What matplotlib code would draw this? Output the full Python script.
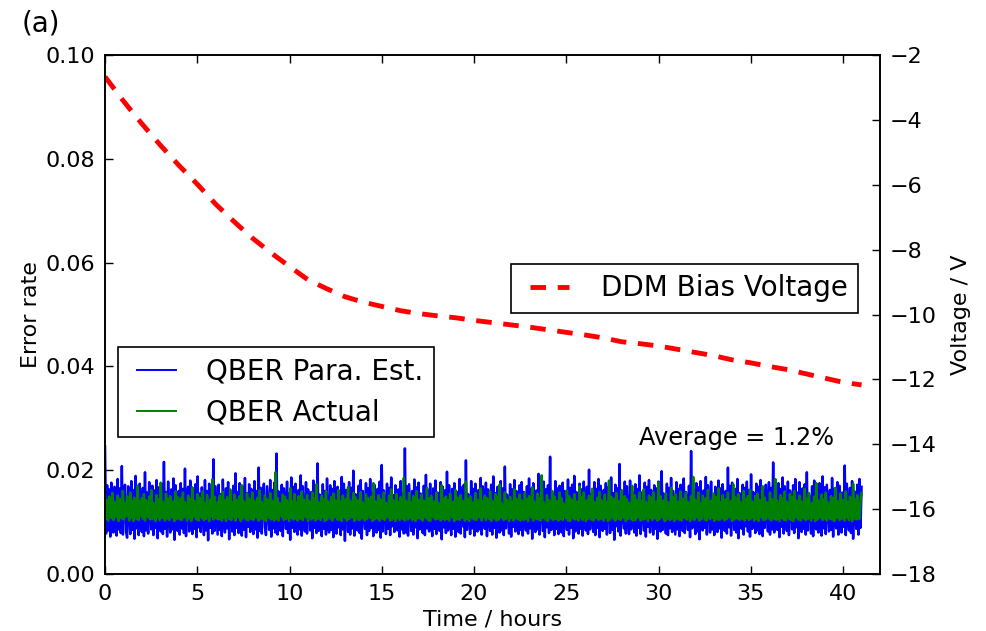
import numpy as np
import matplotlib
matplotlib.use('Agg')
import matplotlib.pyplot as plt
from matplotlib.legend_handler import HandlerLine2D

# QBER from parameter estimation, units of 1e-4
qber_est = [
    246, 78, 171, 84, 163, 72, 176, 120, 80, 168, 135, 74, 183, 86, 165, 79, 208, 76, 152, 172, 83, 70, 169, 118, 77, 179, 85, 162, 68, 189, 88, 158, 75, 174, 112, 81,
    166, 73, 196, 84, 157, 78, 177, 128, 86, 170, 75, 161, 89, 181, 69, 167, 140, 82, 173, 77, 216, 87, 158, 72, 178, 110, 80, 163, 86, 184, 66, 171, 130, 83, 160, 76,
    175, 88, 164, 79, 203, 73, 150, 168, 82, 180, 117, 77, 163, 87, 173, 71, 188, 90, 155, 81, 167, 135, 75, 181, 84, 160, 65, 174, 89, 163, 78, 221, 83, 169, 122, 76,
    172, 85, 154, 73, 182, 108, 80, 165, 88, 177, 67, 161, 142, 82, 170, 75, 194, 89, 158, 79, 175, 114, 74, 168, 85, 185, 71, 156, 91, 173, 81, 164, 131, 77, 179, 86,
    160, 70, 205, 83, 166, 78, 151, 174, 90, 75, 169, 126, 85, 181, 72, 162, 88, 176, 80, 232, 76, 159, 111, 83, 172, 73, 165, 139, 87, 178, 79, 155, 66, 186, 89, 168,
    81, 174, 118, 76, 162, 86, 190, 74, 169, 106, 82, 177, 78, 163, 144, 84, 158, 69, 180, 89, 167, 79, 213, 83, 153, 129, 73, 173, 87, 160, 76, 184, 92, 80, 171, 85,
    164, 71, 179, 120, 78, 168, 90, 156, 75, 187, 86, 174, 64, 162, 137, 81, 177, 76, 166, 88, 199, 74, 154, 112, 84, 170, 79, 181, 68, 160, 125, 87, 175, 75, 165, 83,
    183, 89, 158, 73, 172, 109, 80, 164, 85, 178, 70, 210, 82, 161, 133, 77, 174, 87, 166, 75, 186, 92, 152, 81, 171, 116, 84, 163, 72, 179, 86, 156, 78, 242, 80, 169,
    74, 173, 128, 83, 160, 76, 182, 90, 167, 69, 176, 86, 155, 141, 79, 170, 75, 191, 88, 162, 82, 174, 107, 73, 165, 87, 180, 77, 157, 123, 83, 177, 67, 168, 90, 161,
    79, 197, 84, 171, 115, 75, 164, 87, 175, 72, 159, 138, 81, 183, 78, 167, 92, 172, 71, 219, 85, 154, 130, 77, 179, 88, 164, 74, 174, 110, 82, 162, 86, 185, 76, 169,
    144, 87, 176, 73, 163, 105, 83, 172, 76, 188, 89, 156, 70, 168, 121, 80, 179, 84, 165, 75, 207, 88, 153, 134, 78, 173, 72, 163, 91, 181, 82, 160, 113, 77, 171, 85,
    177, 74, 158, 136, 84, 169, 78, 184, 88, 164, 68, 175, 108, 81, 161, 86, 193, 76, 167, 124, 83, 178, 71, 163, 90, 171, 79, 226, 85, 155, 118, 75, 179, 87, 165, 77,
    170, 93, 80, 176, 73, 160, 142, 85, 182, 76, 166, 89, 172, 69, 189, 82, 158, 127, 78, 174, 87, 163, 74, 178, 109, 84, 168, 77, 201, 86, 153, 132, 81, 177, 75, 164,
    89, 183, 71, 170, 114, 83, 162, 87, 175, 76, 167, 140, 79, 186, 85, 156, 66, 172, 92, 165, 82, 212, 74, 161, 123, 88, 178, 78, 169, 106, 77, 180, 86, 159, 129, 80,
    173, 74, 164, 89, 190, 77, 157, 119, 84, 176, 72, 168, 91, 181, 80, 162, 137, 76, 171, 87, 165, 68, 178, 111, 82, 198, 85, 155, 130, 78, 174, 75, 166, 88, 185, 81,
    160, 116, 76, 177, 86, 164, 73, 172, 93, 83, 184, 79, 158, 139, 85, 170, 71, 237, 88, 163, 125, 77, 175, 82, 167, 67, 179, 108, 84, 161, 89, 187, 76, 171, 134, 80,
    178, 86, 154, 75, 168, 112, 81, 180, 88, 165, 70, 173, 131, 83, 160, 78, 205, 90, 170, 74, 176, 120, 85, 164, 80, 183, 69, 156, 143, 87, 172, 76, 166, 92, 178, 82,
    162, 72, 192, 87, 158, 128, 79, 174, 84, 168, 77, 181, 105, 73, 162, 89, 172, 138, 82, 177, 76, 166, 86, 215, 80, 155, 115, 85, 175, 71, 164, 91, 186, 78, 169, 122,
    83, 178, 75, 161, 133, 86, 171, 79, 183, 90, 157, 69, 177, 109, 81, 165, 87, 173, 76, 196, 84, 153, 141, 78, 169, 73, 180, 93, 86, 163, 80, 175, 117, 74, 188, 88,
    167, 77, 172, 126, 82, 162, 85, 185, 72, 164, 106, 88, 177, 76, 170, 145, 80, 157, 91, 209, 75, 174, 114, 84, 166, 79, 179, 68, 160, 130, 87, 172, 76, 183, 89, 168,
]
# measured QBER, units of 1e-4
qber_act = [
    153, 106, 142, 103, 149, 123, 108, 156, 104, 139, 116, 110, 151, 102, 145, 128, 107, 160, 105, 137, 111, 150, 120, 103, 157, 109, 141, 102, 147, 126, 106, 170, 104, 140, 113, 146,
    107, 154, 103, 142, 119, 109, 149, 105, 162, 106, 137, 125, 102, 152, 110, 144, 104, 176, 108, 139, 117, 103, 155, 107, 145, 104, 150, 128, 109, 140, 102, 159, 106, 148, 114, 105,
    146, 104, 157, 109, 138, 121, 103, 151, 107, 144, 102, 167, 110, 141, 130, 105, 154, 103, 147, 115, 108, 159, 104, 137, 106, 152, 125, 102, 143, 111, 182, 105, 149, 118, 107, 139,
    105, 151, 116, 103, 158, 108, 142, 102, 148, 127, 106, 163, 104, 138, 110, 153, 103, 143, 120, 109, 150, 102, 171, 107, 140, 123, 105, 155, 103, 145, 112, 106, 157, 104, 141, 131,
    109, 147, 103, 161, 106, 139, 118, 104, 152, 102, 144, 128, 108, 156, 105, 141, 113, 103, 196, 107, 146, 103, 137, 124, 110, 153, 104, 149, 106, 142, 121, 102, 165, 108, 140, 105,
    154, 107, 138, 103, 150, 125, 106, 159, 104, 143, 115, 109, 152, 102, 141, 132, 105, 157, 108, 146, 103, 173, 106, 138, 119, 104, 151, 110, 144, 102, 160, 105, 140, 129, 107, 148,
    103, 155, 109, 142, 120, 105, 162, 104, 139, 102, 151, 124, 108, 145, 103, 168, 106, 141, 114, 109, 156, 102, 148, 126, 105, 142, 104, 158, 107, 138, 117, 103, 153, 106, 146, 130,
    108, 149, 102, 175, 105, 140, 121, 107, 152, 103, 144, 131, 106, 157, 104, 137, 111, 109, 151, 103, 163, 105, 142, 125, 102, 154, 108, 139, 104, 148, 116, 106, 185, 103, 141, 127,
    105, 156, 109, 138, 104, 150, 122, 102, 160, 107, 143, 112, 106, 153, 103, 141, 129, 108, 166, 104, 146, 102, 151, 118, 109, 140, 105, 157, 106, 137, 125, 103, 171, 107, 145, 104,
    149, 106, 142, 103, 155, 124, 109, 139, 102, 162, 105, 147, 115, 104, 152, 108, 141, 131, 103, 178, 106, 144, 102, 150, 121, 107, 138, 105, 156, 104, 143, 127, 109, 165, 103, 140,
    110, 151, 104, 146, 117, 106, 159, 102, 141, 125, 107, 154, 103, 148, 105, 172, 109, 137, 113, 104, 157, 106, 143, 128, 102, 149, 108, 139, 103, 163, 107, 145, 119, 105, 153, 103,
    142, 130, 104, 156, 107, 144, 102, 150, 116, 109, 167, 103, 140, 123, 106, 155, 105, 147, 103, 190, 108, 138, 120, 104, 152, 102, 142, 127, 107, 160, 104, 149, 112, 106, 141, 103,
    157, 106, 146, 104, 136, 122, 108, 161, 103, 150, 102, 144, 129, 107, 154, 105, 140, 115, 103, 169, 109, 148, 104, 157, 124, 102, 142, 106, 151, 118, 105, 164, 103, 139, 131, 108,
    147, 104, 158, 106, 142, 117, 103, 153, 109, 138, 102, 180, 105, 149, 126, 107, 145, 103, 156, 111, 106, 141, 104, 161, 121, 108, 150, 102, 144, 106, 137, 132, 105, 170, 103, 152,
    104, 143, 120, 109, 157, 103, 141, 105, 163, 106, 139, 128, 102, 151, 108, 147, 104, 158, 114, 107, 140, 103, 176, 106, 150, 123, 109, 142, 102, 155, 105, 138, 118, 104, 166, 107,
    148, 102, 153, 125, 106, 140, 104, 159, 103, 145, 113, 108, 156, 105, 139, 130, 102, 150, 107, 187, 104, 143, 120, 109, 157, 103, 137, 106, 151, 127, 105, 146, 103, 162, 116, 106,
    141, 108, 155, 102, 149, 122, 105, 165, 104, 138, 107, 152, 129, 103, 144, 106, 157, 112, 109, 141, 102, 173, 105, 148, 119, 107, 154, 104, 139, 132, 106, 160, 103, 145, 108, 150,
    104, 162, 107, 140, 124, 103, 150, 106, 155, 102, 143, 117, 109, 169, 104, 147, 105, 138, 130, 107, 157, 103, 144, 111, 106, 183, 104, 141, 121, 102, 152, 108, 146, 105, 159, 103,
    139, 127, 106, 154, 104, 148, 102, 160, 109, 142, 115, 105, 151, 103, 140, 131, 107, 164, 104, 145, 106, 156, 120, 103, 137, 108, 149, 102, 175, 105, 142, 124, 109, 153, 104, 144,
    107, 157, 103, 138, 118, 106, 150, 105, 146, 102, 166, 108, 141, 126, 104, 155, 106, 143, 113, 103, 159, 109, 139, 104, 149, 129, 102, 174, 107, 144, 105, 152, 121, 106, 140, 156,
]

# DDM bias voltage, one reading per hour
volt_hours = list(range(42))
bias_volt = [-2.67, -3.42, -4.12, -4.78, -5.40, -5.98, -6.60, -7.14, -7.65, -8.10,
             -8.52, -8.93, -9.20, -9.45, -9.62, -9.75, -9.88, -9.97, -10.04, -10.10,
             -10.18, -10.25, -10.32, -10.39, -10.47, -10.55, -10.63, -10.72, -10.84, -10.90,
             -10.97, -11.07, -11.17, -11.27, -11.40, -11.49, -11.60, -11.70, -11.83, -11.96,
             -12.09, -12.17]

t_end = 41.0
t = np.linspace(0, t_end, len(qber_est))
est = np.array(qber_est) * 1e-4
act = np.array(qber_act) * 1e-4

plt.rcParams['font.family'] = 'DejaVu Sans'
plt.rcParams['axes.linewidth'] = 1.2

fig = plt.figure(figsize=(9.86, 6.31), dpi=100)
ax1 = fig.add_axes([0.1065, 0.0903, 0.786, 0.8225])
ax2 = ax1.twinx()

ax1.plot(t, est, color='b', linewidth=1.8, label='QBER Para. Est.')
ax1.plot(t, act, color='g', linewidth=1.8, label='QBER Actual')
ax2.plot(volt_hours, bias_volt, color='r', linewidth=3.5, dashes=(3.2, 2.4), label='DDM Bias Voltage')

ax1.set_xlim(0, 42)
ax1.set_ylim(0, 0.10)
ax2.set_ylim(-18, -2)
ax1.set_xticks(np.arange(0, 41, 5))
ax1.set_yticks(np.arange(0, 0.101, 0.02))
ax1.set_yticklabels(['%.2f' % v for v in np.arange(0, 0.101, 0.02)])
ax2.set_yticks(np.arange(-18, -1, 2))
ax2.set_yticklabels(['\u2212%d' % -v for v in np.arange(-18, -1, 2)])

ax1.tick_params(axis='both', direction='in', length=6, width=1, labelsize=16,
                top=True, right=False, pad=7)
ax2.tick_params(axis='y', direction='in', length=6, width=1, labelsize=16, pad=7)

ax1.set_xlabel('Time / hours', fontsize=16, labelpad=4)
ax1.set_ylabel('Error rate', fontsize=16, labelpad=3)
ax2.set_ylabel('Voltage / V', fontsize=16, labelpad=10)

ax1.text(34.2, 0.0262, 'Average = 1.2%', ha='center', va='center', fontsize=17.3)
fig.text(0.022, 0.962, '(a)', fontsize=20, ha='left', va='center')

# shift the legend sample lines in from the frame edge
hmap = {matplotlib.lines.Line2D: HandlerLine2D(xpad=0.3)}
leg1 = ax1.legend(loc='lower left', bbox_to_anchor=(0.0168, 0.264), borderaxespad=0,
                  fontsize=20, fancybox=False, edgecolor='k', handlelength=1.7,
                  handletextpad=1.1, borderpad=0.38, labelspacing=0.46, framealpha=1,
                  handler_map=hmap)
leg1.get_frame().set_linewidth(1.2)
for ln in leg1.get_lines():
    ln.set_linewidth(1.4)
leg2 = ax2.legend(loc='lower right', bbox_to_anchor=(0.9716, 0.503), borderaxespad=0,
                  fontsize=20, fancybox=False, edgecolor='k', handlelength=1.7,
                  handletextpad=1.15, borderpad=0.38, framealpha=1, handler_map=hmap)
leg2.get_frame().set_linewidth(1.2)

fig.savefig('out.png', dpi=100)
